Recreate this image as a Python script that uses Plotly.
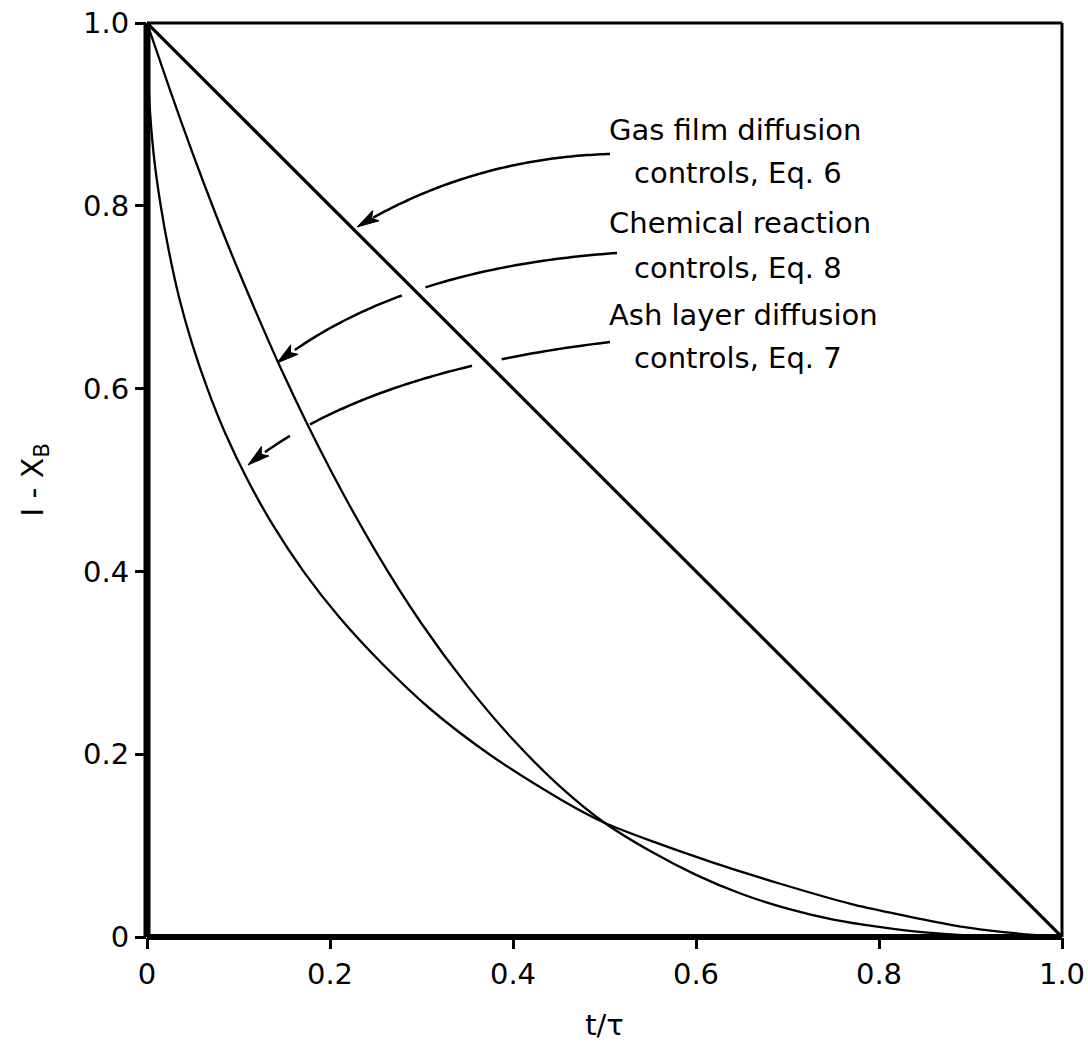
import numpy as np
import plotly.graph_objects as go

# ---- data ----
t_gas = [0.0, 1.0]
y_gas = [1.0, 0.0]

t_chem = [0, 0.025, 0.05, 0.075, 0.1, 0.15, 0.2, 0.25, 0.3, 0.35, 0.4, 0.45, 0.5,
          0.55, 0.6, 0.65, 0.7, 0.75, 0.8, 0.85, 0.9, 0.95, 1.0]
y_chem = [1, 0.927, 0.857, 0.791, 0.729, 0.614, 0.512, 0.422, 0.343, 0.275, 0.216, 0.166, 0.125,
          0.094, 0.068, 0.047, 0.031, 0.019, 0.011, 0.005, 0.0015, 0.0003, 0]

t_ash = [0, 0.001, 0.0035, 0.008, 0.015, 0.024, 0.035, 0.049, 0.066, 0.086, 0.11, 0.138,
         0.171, 0.21, 0.256, 0.309, 0.374, 0.453, 0.5, 0.554, 0.617, 0.693, 0.77, 0.82,
         0.88, 0.922, 0.972, 1.0]
y_ash = [1, 0.95, 0.9, 0.85, 0.8, 0.75, 0.7, 0.65, 0.6, 0.55, 0.5, 0.45,
         0.4, 0.35, 0.3, 0.25, 0.2, 0.15, 0.125, 0.104, 0.082, 0.058, 0.036, 0.025,
         0.013, 0.007, 0.002, 0]

tick_vals = [0, 0.2, 0.4, 0.6, 0.8, 1.0]
tick_text = ["0", "0.2", "0.4", "0.6", "0.8", "1.0"]

labels = [
    ("Gas film diffusion", 607, 130),
    ("controls, Eq. 6", 632, 173),
    ("Chemical reaction", 607, 223),
    ("controls, Eq. 8", 632, 268),
    ("Ash layer diffusion", 607, 315),
    ("controls, Eq. 7", 632, 358),
]

x_title = "t/τ"
y_title = "I - X<sub>B</sub>"

# ---- layout geometry (pixels) ----
W, H = 1088, 1045
L, R, T, B = 147, 1062, 23, 937
FONT = "DejaVu Sans"


def px2d(px, py):
    return ((px - L) / (R - L), (B - py) / (B - T))


fig = go.Figure()
fig.add_trace(go.Scatter(x=t_gas, y=y_gas, mode="lines",
                         line=dict(color="black", width=3.2), hoverinfo="skip"))
fig.add_trace(go.Scatter(x=t_chem, y=y_chem, mode="lines",
                         line=dict(color="black", width=2.3, shape="spline", smoothing=0.8),
                         hoverinfo="skip"))
fig.add_trace(go.Scatter(x=t_ash, y=y_ash, mode="lines",
                         line=dict(color="black", width=2.3, shape="spline", smoothing=0.8),
                         hoverinfo="skip"))

shapes = []
# frame: thick left/bottom, thin top/right
shapes.append(dict(type="line", xref="paper", yref="paper", x0=0, x1=0, y0=0, y1=1,
                   line=dict(color="black", width=7)))
shapes.append(dict(type="line", xref="paper", yref="paper", x0=0, x1=1, y0=0, y1=0,
                   line=dict(color="black", width=6)))
shapes.append(dict(type="line", xref="paper", yref="paper", x0=0, x1=1, y0=1, y1=1,
                   line=dict(color="black", width=3)))
shapes.append(dict(type="line", xref="paper", yref="paper", x0=1, x1=1, y0=0, y1=1,
                   line=dict(color="black", width=3)))

# curved leader arrows (quadratic Bezier, in pixel space, with gaps where they cross curves)
arrows = [
    dict(p0=(610, 154), c=(472, 158), p2=(357, 227), gaps=[]),
    dict(p0=(617, 253), c=(400, 268), p2=(277, 363), gaps=[(402, 422)]),
    dict(p0=(610, 342), c=(365, 371), p2=(248, 465), gaps=[(475, 500), (293, 307)]),
]
for a in arrows:
    p0, c, p2 = np.array(a["p0"], float), np.array(a["c"], float), np.array(a["p2"], float)
    s = np.linspace(0, 0.93, 80)
    pts = ((1 - s)[:, None] ** 2) * p0 + (2 * (1 - s) * s)[:, None] * c + (s[:, None] ** 2) * p2
    segs, cur = [], []
    for p in pts:
        if any(g0 <= p[0] <= g1 for g0, g1 in a["gaps"]):
            if len(cur) > 1:
                segs.append(cur)
            cur = []
        else:
            cur.append(p)
    if len(cur) > 1:
        segs.append(cur)
    for seg in segs:
        d = []
        for i, p in enumerate(seg):
            x, y = px2d(p[0], p[1])
            d.append(("M" if i == 0 else "L") + f"{x:.5f},{y:.5f}")
        shapes.append(dict(type="path", xref="x", yref="y", path=" ".join(d),
                           line=dict(color="black", width=2.5)))
    # filled arrowhead
    v = c - p2
    u = v / np.linalg.norm(v)
    n = np.array([-u[1], u[0]])
    base = p2 + u * 22
    corners = [p2, base + n * 6, p2 + u * 17, base - n * 6]
    d = []
    for i, p in enumerate(corners):
        x, y = px2d(p[0], p[1])
        d.append(("M" if i == 0 else "L") + f"{x:.5f},{y:.5f}")
    shapes.append(dict(type="path", xref="x", yref="y", path=" ".join(d) + " Z",
                       fillcolor="black", line=dict(color="black", width=1)))

annotations = []
for txt, x, y in labels:
    xp, yp = px2d(x, y)
    annotations.append(dict(x=xp, y=yp, xref="paper", yref="paper", text=txt,
                            showarrow=False, xanchor="left", yanchor="middle",
                            font=dict(family=FONT, size=29, color="black")))

axis_common = dict(range=[0, 1], showgrid=False, zeroline=False, showline=False,
                   ticks="outside", ticklen=11, tickwidth=3, tickcolor="black",
                   tickvals=tick_vals, ticktext=tick_text, automargin=False,
                   tickfont=dict(family=FONT, size=29, color="black"))

fig.update_layout(
    width=W, height=H,
    margin=dict(l=L, r=W - R, t=T, b=H - B, pad=0),
    paper_bgcolor="white", plot_bgcolor="white",
    showlegend=False,
    font=dict(family=FONT, color="black"),
    xaxis=dict(**axis_common,
               title=dict(text=x_title, standoff=24, font=dict(family=FONT, size=29))),
    yaxis=dict(**axis_common,
               title=dict(text=y_title, standoff=30, font=dict(family=FONT, size=30))),
    shapes=shapes,
    annotations=annotations,
)

fig.write_html("out.html")
